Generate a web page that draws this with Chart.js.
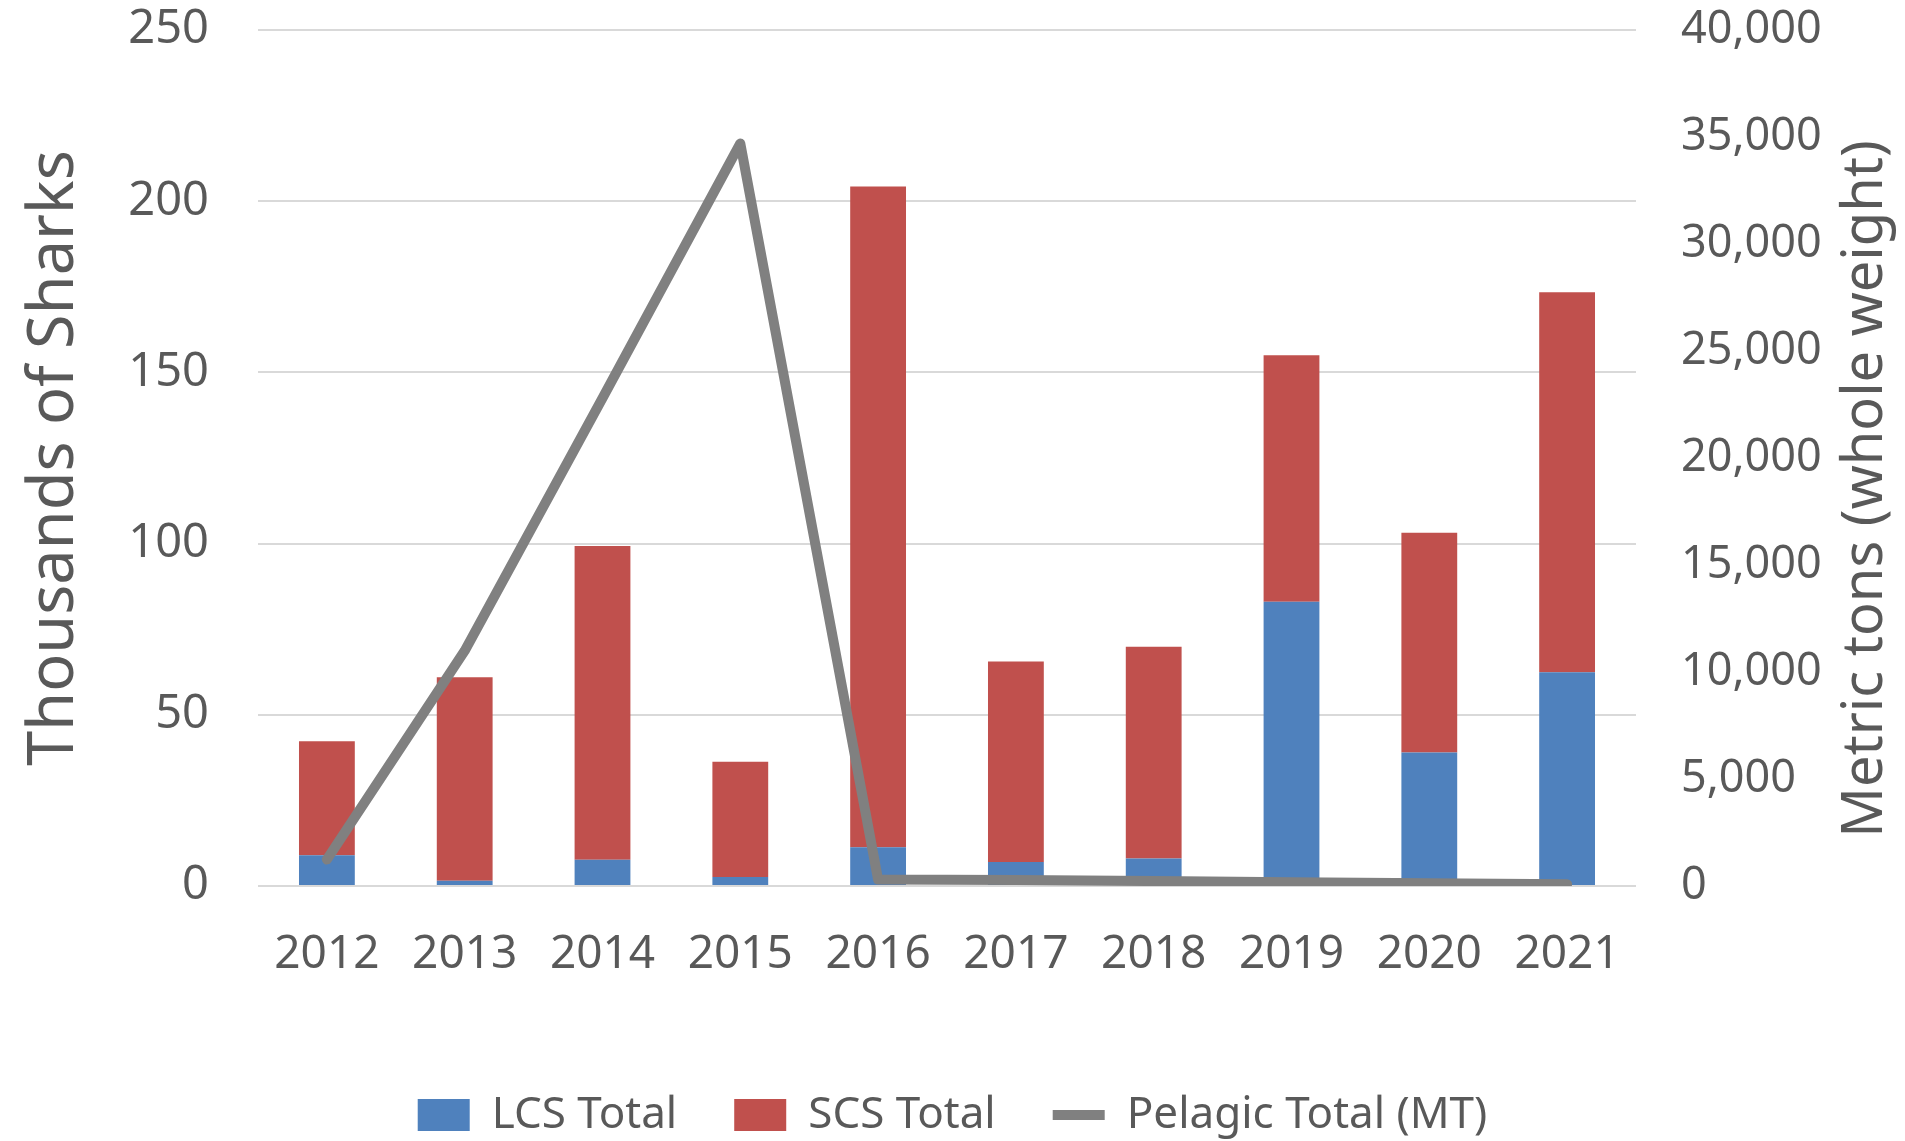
<!DOCTYPE html>
<html>
<head>
<meta charset="utf-8">
<script src="https://cdn.jsdelivr.net/npm/chart.js@4.4.1/dist/chart.umd.min.js"></script>
<style>
    html, body { margin: 0; padding: 0; background: #fff; overflow: hidden; }
    #wrap { width: 1905px; height: 1141px; }
</style>
</head>
<body>
<div id="wrap"><canvas id="sharkChart"></canvas></div>
<script>
// Chart data
const years = ['2012', '2013', '2014', '2015', '2016', '2017', '2018', '2019', '2020', '2021'];
const lcsTotal = [9.0, 1.5, 7.7, 2.6, 11.3, 7.0, 8.0, 83.0, 39.0, 62.4];
const scsTotal = [33.3, 59.5, 91.6, 33.7, 193.0, 58.6, 61.9, 72.0, 64.2, 111.0];
const pelagicTotal = [1240, 10990, 22800, 34700, 300, 280, 230, 170, 130, 80];

const textColor = '#595959';
const fontFamily = '"Noto Sans", "Open Sans", sans-serif';

// Right axis title reads bottom-to-top, so draw it ourselves
const rightTitlePlugin = {
    id: 'rightTitle',
    afterDraw(chart) {
        const ctx = chart.ctx;
        ctx.save();
        ctx.translate(1866, 489);
        ctx.rotate(-Math.PI / 2);
        ctx.font = '56px ' + fontFamily;
        ctx.fillStyle = textColor;
        ctx.textAlign = 'center';
        ctx.textBaseline = 'middle';
        ctx.fillText('Metric tons (whole weight)', 0, 0);
        ctx.restore();
    }
};

// Fix axis box size; keep tick padding from pushing the plot area down
function fixWidth(w) {
    return (scale) => {
        scale.width = w;
        scale.paddingTop = 20;
        scale.paddingBottom = 20;
    };
}

const ctx = document.getElementById('sharkChart').getContext('2d');
new Chart(ctx, {
    type: 'bar',
    data: {
        labels: years,
        datasets: [{
            label: 'LCS Total',
            data: lcsTotal,
            backgroundColor: '#4F81BD',
            borderWidth: 0,
            pointStyle: 'rect',
            yAxisID: 'y',
            stack: 'sharks',
            order: 1
        }, {
            label: 'SCS Total',
            data: scsTotal,
            backgroundColor: '#C0504D',
            borderWidth: 0,
            pointStyle: 'rect',
            yAxisID: 'y',
            stack: 'sharks',
            order: 1
        }, {
            type: 'line',
            label: 'Pelagic Total (MT)',
            data: pelagicTotal,
            borderColor: '#808080',
            backgroundColor: '#808080',
            borderWidth: 10,
            borderCapStyle: 'round',
            borderJoinStyle: 'round',
            pointRadius: 0,
            pointStyle: 'line',
            tension: 0,
            yAxisID: 'y1',
            order: 0
        }]
    },
    options: {
        responsive: true,
        maintainAspectRatio: false,
        animation: false,
        layout: {
            padding: { top: 30, left: 0, right: 0, bottom: 0 }
        },
        datasets: {
            bar: { categoryPercentage: 1, barPercentage: 0.405 }
        },
        scales: {
            x: {
                stacked: true,
                grid: { display: false, drawTicks: false },
                border: { display: false },
                ticks: { color: textColor, font: { family: fontFamily, size: 46 }, padding: 41 },
                afterFit: (scale) => { scale.height = 150; }
            },
            y: {
                stacked: true,
                position: 'left',
                min: 0,
                max: 250,
                ticks: { stepSize: 50, color: textColor, font: { family: fontFamily, size: 47 }, padding: 49 },
                grid: { color: '#D9D9D9', lineWidth: 2, drawTicks: false },
                border: { display: false },
                title: {
                    display: true,
                    text: 'Thousands of Sharks',
                    color: textColor,
                    font: { family: fontFamily, size: 63 },
                    padding: { top: 17, bottom: 0 }
                },
                afterFit: fixWidth(258)
            },
            y1: {
                position: 'right',
                min: 0,
                max: 40000,
                ticks: {
                    stepSize: 5000,
                    color: textColor,
                    font: { family: fontFamily, size: 45 },
                    padding: 45,
                    callback: (value) => value.toLocaleString('en-US')
                },
                grid: { drawOnChartArea: false, drawTicks: false },
                border: { display: false },
                afterFit: fixWidth(269)
            }
        },
        plugins: {
            legend: {
                position: 'bottom',
                maxHeight: 105,
                labels: {
                    usePointStyle: true,
                    pointStyleWidth: 52,
                    boxHeight: 32,
                    padding: 57,
                    color: textColor,
                    font: { family: fontFamily, size: 44 },
                    sort: (a, b) => a.datasetIndex - b.datasetIndex
                }
            },
            tooltip: { enabled: false }
        }
    },
    plugins: [rightTitlePlugin]
});
</script>
</body>
</html>
